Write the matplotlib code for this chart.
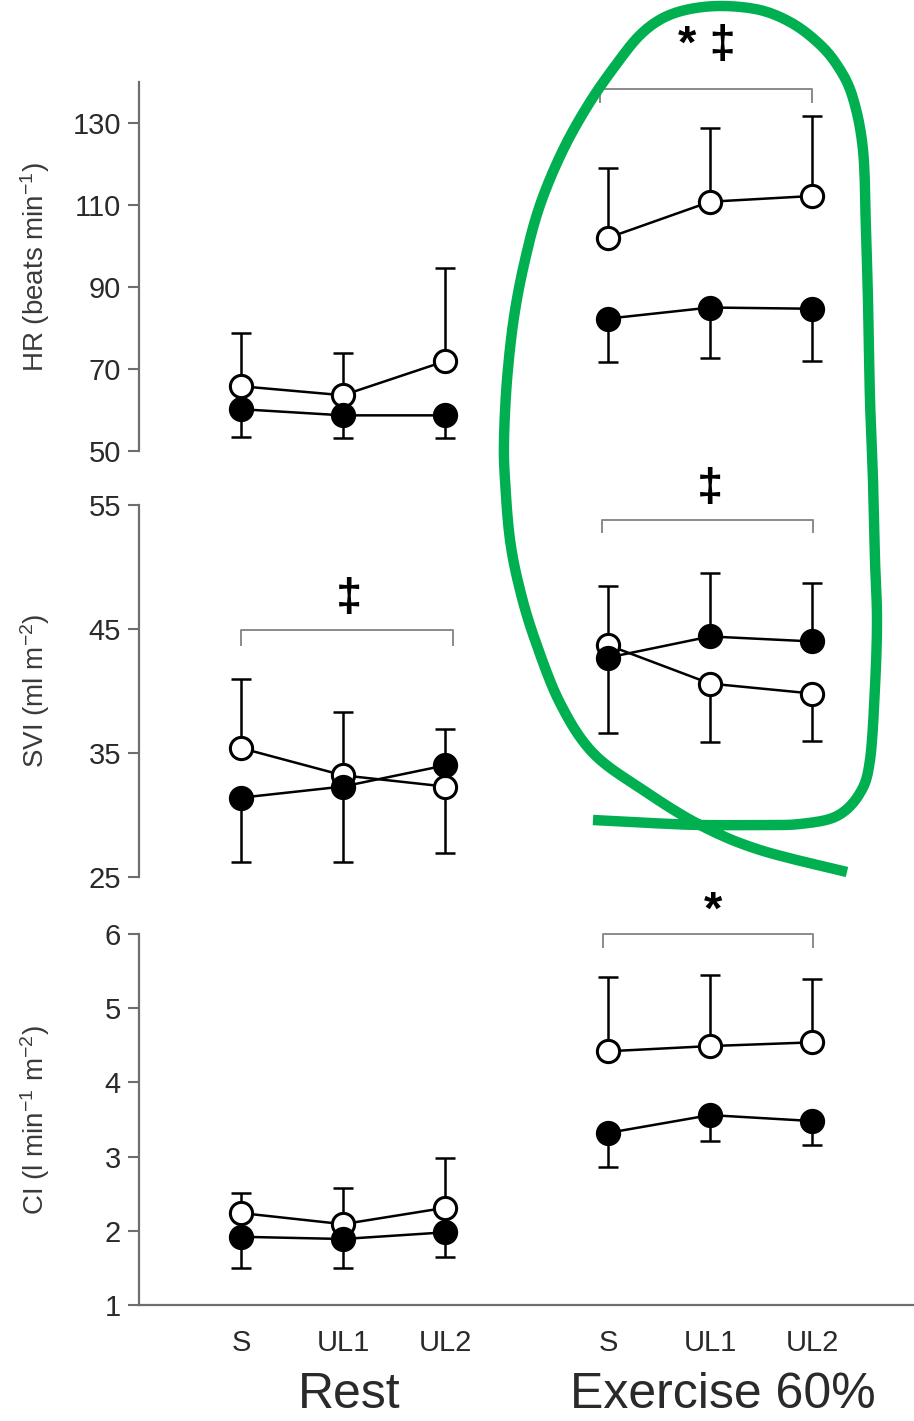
import numpy as np
import matplotlib.pyplot as plt

plt.rcParams['font.family'] = ['Liberation Sans', 'DejaVu Sans']
plt.rcParams['mathtext.default'] = 'regular'

conditions = ['S', 'UL1', 'UL2', 'S', 'UL1', 'UL2']
groups = ['Rest', 'Exercise 60%']
xpos = np.array([1, 2, 3, 4.6, 5.6, 6.6])

# values: rest S, UL1, UL2 then exercise S, UL1, UL2
hr_open = [65.8, 63.6, 71.9, 102.0, 110.8, 112.2]
hr_open_up = [13.1, 10.4, 22.8, 17.0, 17.9, 19.5]
hr_open_dn = [0, 0, 0, 0, 0, 0]
hr_fill = [60.2, 58.7, 58.7, 82.3, 85.0, 84.7]
hr_fill_up = [0, 0, 0, 0, 0, 0]
hr_fill_dn = [6.8, 5.5, 5.5, 10.7, 12.4, 12.8]

svi_open = [35.4, 33.2, 32.3, 43.7, 40.6, 39.8]
svi_open_up = [5.6, 5.1, 0, 4.8, 0, 0]
svi_open_dn = [0, 0, 5.4, 0, 4.7, 3.8]
svi_fill = [31.4, 32.3, 34.0, 42.7, 44.4, 44.0]
svi_fill_up = [0, 0, 2.9, 0, 5.1, 4.7]
svi_fill_dn = [5.2, 6.1, 0, 6.1, 0, 0]

ci_open = [2.24, 2.09, 2.31, 4.42, 4.49, 4.54]
ci_open_up = [0.27, 0.49, 0.67, 1.00, 0.96, 0.85]
ci_open_dn = [0, 0, 0, 0, 0, 0]
ci_fill = [1.92, 1.89, 1.98, 3.32, 3.56, 3.48]
ci_fill_up = [0, 0, 0, 0, 0, 0]
ci_fill_dn = [0.42, 0.39, 0.33, 0.46, 0.35, 0.32]

# significance brackets: (x0, x1, y, tick, label, label_x, label_y)
hr_marks = [(4.52, 6.6, 138.2, 3.0, '* \u2021', 5.57, 148.8)]
svi_marks = [(1.0, 3.08, 44.9, 1.2, '\u2021', 2.06, 47.4),
             (4.54, 6.61, 53.8, 1.0, '\u2021', 5.6, 56.3)]
ci_marks = [(4.55, 6.61, 6.0, 0.17, '*', 5.63, 6.3)]

# hand drawn green loop (figure pixels)
loop_x = [593, 650, 700, 760, 800, 837, 860, 870, 875, 877, 875, 873, 870, 868,
          866, 863, 852, 835, 815, 790, 760, 723, 690, 663, 640, 618, 590, 563,
          540, 525, 514, 507, 504, 505, 510, 520, 535, 560, 593, 643, 700,
          760, 847]
loop_y = [820, 823, 825, 825, 824, 816, 793, 760, 687, 620, 560, 480, 400, 300,
          233, 150, 95, 62, 40, 22, 10, 6, 9, 18, 35, 62, 102, 150,
          205, 260, 317, 380, 440, 480, 540, 590, 640, 703, 753, 790, 825,
          850, 872]

GRAY = '#6e6e6e'
TXT = '#2a2a2a'


def smooth(px, py, n=10):
    # catmull-rom through the traced points, for a pen-like stroke
    p = np.column_stack([px, py]).astype(float)
    p = np.vstack([p[0], p, p[-1]])
    out = []
    for i in range(1, len(p) - 2):
        p0, p1, p2, p3 = p[i - 1], p[i], p[i + 1], p[i + 2]
        for t in np.linspace(0, 1, n, endpoint=False):
            t2, t3 = t * t, t * t * t
            out.append(0.5 * (2 * p1 + (-p0 + p2) * t
                              + (2 * p0 - 5 * p1 + 4 * p2 - p3) * t2
                              + (-p0 + 3 * p1 - 3 * p2 + p3) * t3))
    out.append(p[-2])
    out = np.array(out)
    return out[:, 0], out[:, 1]


fig = plt.figure(figsize=(9.14, 14.21), dpi=100)
ax_hr = fig.add_axes([0.1521, 0.6826, 0.848, 0.2597])
ax_svi = fig.add_axes([0.1521, 0.3828, 0.848, 0.2618])
ax_ci = fig.add_axes([0.1521, 0.0816, 0.848, 0.2611])


def series(ax, mean, up, dn, face):
    mean = np.asarray(mean)
    ax.errorbar(xpos, mean, yerr=[dn, up], fmt='none', ecolor='black',
                elinewidth=1.8, capsize=7.5, capthick=1.8, zorder=2)
    for sl in (slice(0, 3), slice(3, 6)):
        ax.plot(xpos[sl], mean[sl], '-o', color='black', lw=1.8, ms=16,
                mfc=face, mec='black', mew=2.2, zorder=3)


def style(ax, ylim, ticks, label, bottom=False):
    ax.set_xlim(0, 7.6)
    ax.set_ylim(*ylim)
    ax.set_yticks(ticks)
    ax.tick_params(axis='y', length=8, width=1.5, color=GRAY, labelsize=21,
                   labelcolor=TXT, pad=5)
    for s in ['top', 'right']:
        ax.spines[s].set_visible(False)
    ax.spines['left'].set_color(GRAY)
    ax.spines['left'].set_linewidth(1.6)
    if bottom:
        ax.spines['bottom'].set_color(GRAY)
        ax.spines['bottom'].set_linewidth(1.6)
        ax.set_xticks(xpos)
        ax.set_xticklabels(conditions)
        ax.tick_params(axis='x', length=0, labelsize=21, labelcolor=TXT, pad=17)
    else:
        ax.spines['bottom'].set_visible(False)
        ax.set_xticks([])
    ax.set_ylabel(label, fontsize=20, color='#3a3a3a')
    ax.yaxis.set_label_coords(-0.112, 0.5)


def marks(ax, items, fs):
    for x0, x1, y, d, lab, lx, ly in items:
        ax.plot([x0, x0, x1, x1], [y - d, y, y, y - d], color='#8a8a8a',
                lw=1.4, clip_on=False)
        ax.text(lx, ly, lab, ha='center', va='center', fontsize=fs,
                fontweight='bold', color='black', clip_on=False)


series(ax_hr, hr_open, hr_open_up, hr_open_dn, 'white')
series(ax_hr, hr_fill, hr_fill_up, hr_fill_dn, 'black')
series(ax_svi, svi_open, svi_open_up, svi_open_dn, 'white')
series(ax_svi, svi_fill, svi_fill_up, svi_fill_dn, 'black')
series(ax_ci, ci_open, ci_open_up, ci_open_dn, 'white')
series(ax_ci, ci_fill, ci_fill_up, ci_fill_dn, 'black')

style(ax_hr, (50, 140), [50, 70, 90, 110, 130], 'HR (beats min$^{-1}$)')
style(ax_svi, (25, 55), [25, 35, 45, 55], 'SVI (ml m$^{-2}$)')
style(ax_ci, (1, 6), [1, 2, 3, 4, 5, 6], 'CI (l min$^{-1}$ m$^{-2}$)', bottom=True)

marks(ax_hr, hr_marks, 34)
marks(ax_svi, svi_marks, 34)
marks(ax_ci, ci_marks, 34)

ax_ci.text(2.06, -0.243, groups[0], transform=ax_ci.get_xaxis_transform(),
           ha='center', va='center', fontsize=36, color=TXT)
ax_ci.text(5.72, -0.243, groups[1], transform=ax_ci.get_xaxis_transform(),
           ha='center', va='center', fontsize=36, color=TXT)

over = fig.add_axes([0, 0, 1, 1], zorder=10)
over.set_xlim(0, 914)
over.set_ylim(1421, 0)
over.axis('off')
over.patch.set_alpha(0)
sx, sy = smooth(loop_x, loop_y)
over.plot(sx, sy, color='#00b050', lw=7.5, solid_capstyle='butt',
          solid_joinstyle='round')

fig.savefig('out.png', dpi=100, facecolor='white')
